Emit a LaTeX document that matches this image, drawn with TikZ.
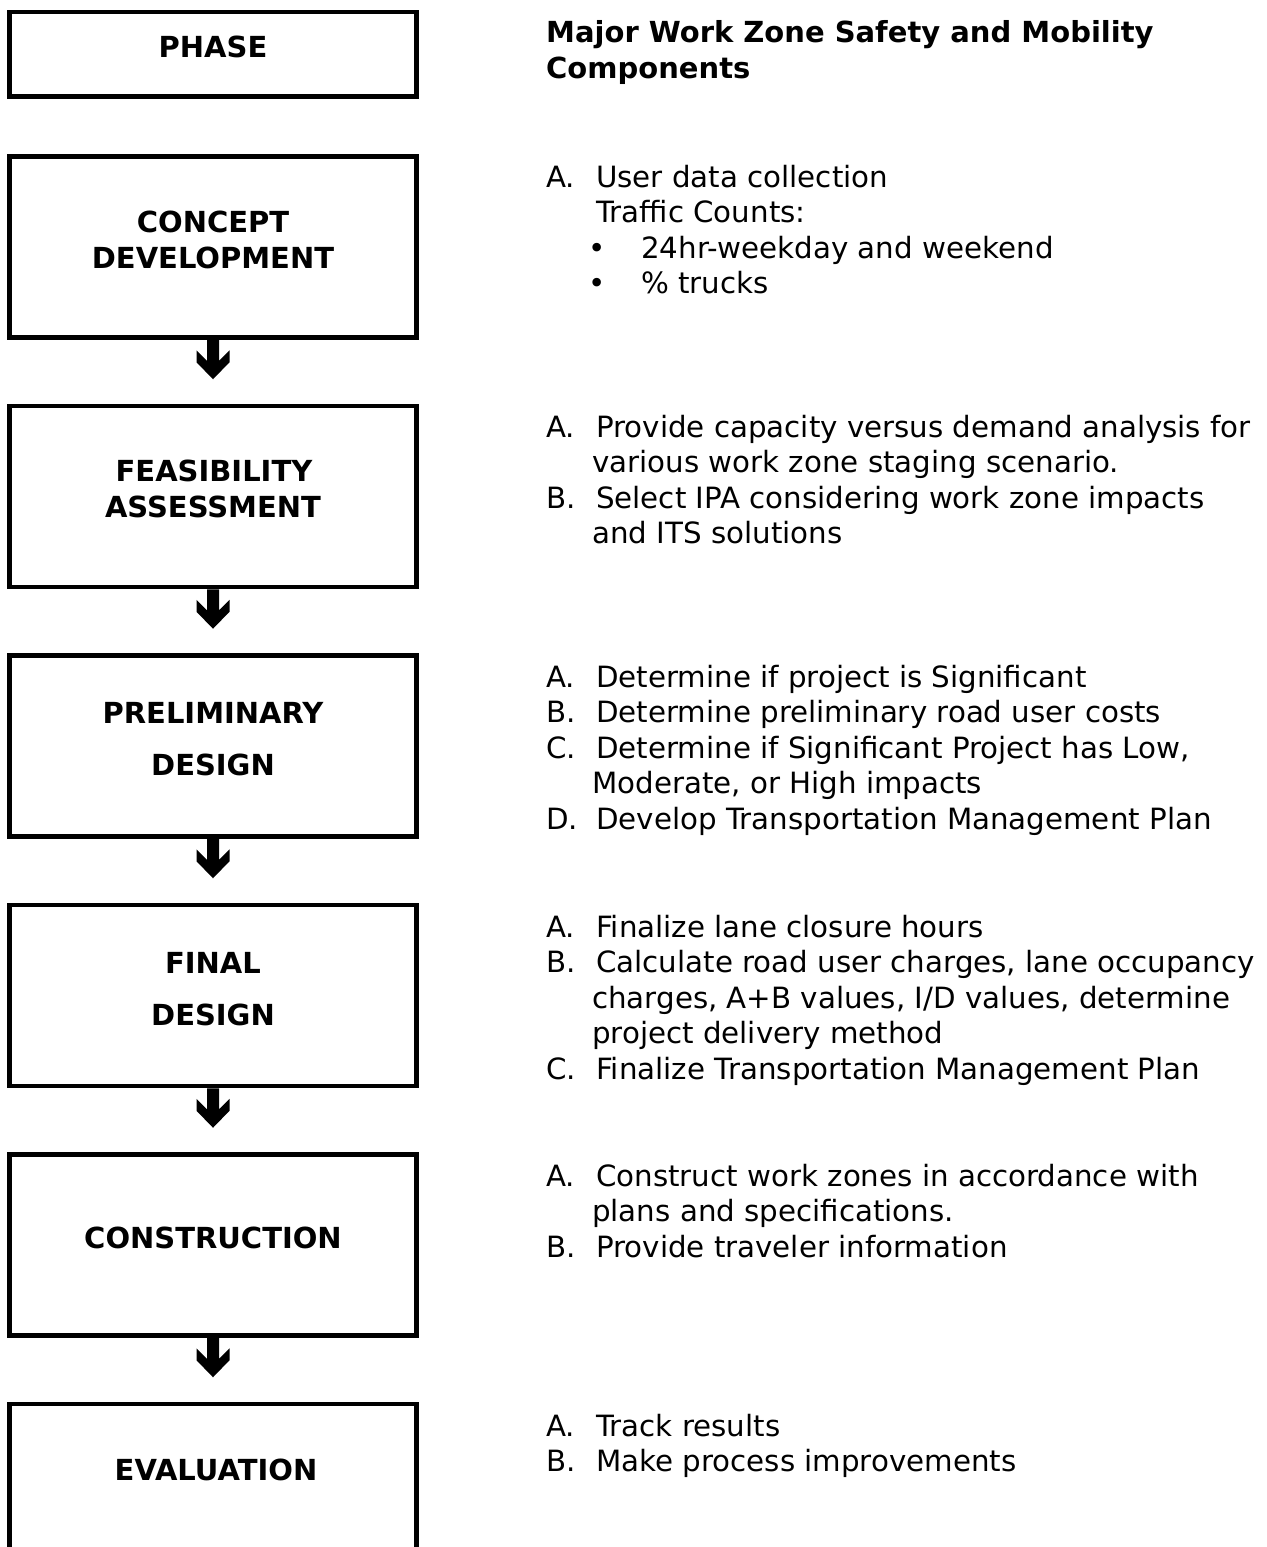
\documentclass[tikz,border=0pt]{standalone}
\usepackage{fontspec}
\setmainfont{DejaVu Sans}
\newcommand\wzfont{\fontsize{29}{35.5}\selectfont}
\newcommand\wzitem{\fontsize{29.3}{35.5}\selectfont}
\begin{document}
\begin{tikzpicture}[x=1pt,y=-1pt,
  phasebox/.style={draw, line width=4.5pt, minimum width=407pt, inner sep=0pt},
  txt/.style={anchor=base west, inner sep=0pt, font=\wzitem},
  hd/.style={anchor=base west, inner sep=0pt, font=\wzfont\bfseries},
  lbl/.style={anchor=base, inner sep=0pt, font=\wzfont\bfseries},
  bul/.style={anchor=base, inner sep=0pt, font=\wzitem},
  dnarrow/.style={fill=black}]
\useasboundingbox (0,0) rectangle (1266,1547);

% boxes
\node[phasebox, minimum height=84.5pt] (b0) at (213,54.25) {};
\node[phasebox, minimum height=181pt] (b1) at (213,247) {};
\node[phasebox, minimum height=181pt] (b2) at (213,496.5) {};
\node[phasebox, minimum height=181pt] (b3) at (213,746) {};
\node[phasebox, minimum height=181pt] (b4) at (213,995.5) {};
\node[phasebox, minimum height=181pt] (b5) at (213,1245) {};
\node[phasebox, minimum height=181pt] (b6) at (213,1494.5) {};

% box labels
\node[lbl] (l0) at (213,57.5) {PHASE};
\node[lbl] (l1a) at (213,232.5) {CONCEPT};
\node[lbl] (l1b) at (213,268.5) {DEVELOPMENT};
\node[lbl] (l2a) at (214,481.5) {FEASIBILITY};
\node[lbl] (l2b) at (213,517.5) {ASSESSMENT};
\node[lbl] (l3a) at (213,723.5) {PRELIMINARY};
\node[lbl] (l3b) at (213,775.5) {DESIGN};
\node[lbl] (l4a) at (213,973.5) {FINAL};
\node[lbl] (l4b) at (213,1025.5) {DESIGN};
\node[lbl] (l5) at (213,1248.5) {CONSTRUCTION};
\node[lbl] (l6) at (216,1480.5) {EVALUATION};

% arrows
\foreach \b in {b1,b2,b3,b4,b5}{
  \fill[dnarrow, shift={(\b.south)}] (-6,0) -- (-6,21) -- (-16.5,10.5) -- (-16.5,22.5)
    -- (0,39.5) -- (16.5,22.5) -- (16.5,10.5) -- (6,21) -- (6,0) -- cycle;
}

% heading
\node[hd] (h1) at (546,42) {Major Work Zone Safety and Mobility};
\node[hd] (h2) at (546,78) {Components};

% concept
\node[txt] (c1l) at (546,187) {A.};
\node[txt] (c1) at (596,187) {User data collection};
\node[txt] (c2) at (596,222.5) {Traffic Counts:};
\node[bul] (c3b) at (597,258) {•};
\node[txt] (c3) at (641,258) {24hr-weekday and weekend};
\node[bul] (c4b) at (597,293.5) {•};
\node[txt] (c4) at (641,293.5) {\% trucks};

% feasibility
\node[txt] (f1l) at (546,437) {A.};
\node[txt] (f1) at (596,437) {Provide capacity versus demand analysis for};
\node[txt] (f2) at (592,472.5) {various work zone staging scenario.};
\node[txt] (f3l) at (546,508) {B.};
\node[txt] (f3) at (596,508) {Select IPA considering work zone impacts};
\node[txt] (f4) at (592,543.5) {and ITS solutions};

% preliminary
\node[txt] (p1l) at (546,687) {A.};
\node[txt] (p1) at (596,687) {Determine if project is Significant};
\node[txt] (p2l) at (546,722.5) {B.};
\node[txt] (p2) at (596,722.5) {Determine preliminary road user costs};
\node[txt] (p3l) at (546,758) {C.};
\node[txt] (p3) at (596,758) {Determine if Significant Project has Low,};
\node[txt] (p4) at (592,793.5) {Moderate, or High impacts};
\node[txt] (p5l) at (546,829) {D.};
\node[txt] (p5) at (596,829) {Develop Transportation Management Plan};

% final
\node[txt] (d1l) at (546,937) {A.};
\node[txt] (d1) at (596,937) {Finalize lane closure hours};
\node[txt] (d2l) at (546,972.5) {B.};
\node[txt] (d2) at (596,972.5) {Calculate road user charges, lane occupancy};
\node[txt] (d3) at (592,1008) {charges, A+B values, I/D values, determine};
\node[txt] (d4) at (592,1043.5) {project delivery method};
\node[txt] (d5l) at (546,1079) {C.};
\node[txt] (d5) at (596,1079) {Finalize Transportation Management Plan};

% construction
\node[txt] (k1l) at (546,1186) {A.};
\node[txt] (k1) at (596,1186) {Construct work zones in accordance with};
\node[txt] (k2) at (592,1221.5) {plans and specifications.};
\node[txt] (k3l) at (546,1257) {B.};
\node[txt] (k3) at (596,1257) {Provide traveler information};

% evaluation
\node[txt] (e1l) at (546,1436) {A.};
\node[txt] (e1) at (596,1436) {Track results};
\node[txt] (e2l) at (546,1471.5) {B.};
\node[txt] (e2) at (596,1471.5) {Make process improvements};
\end{tikzpicture}
\end{document}
